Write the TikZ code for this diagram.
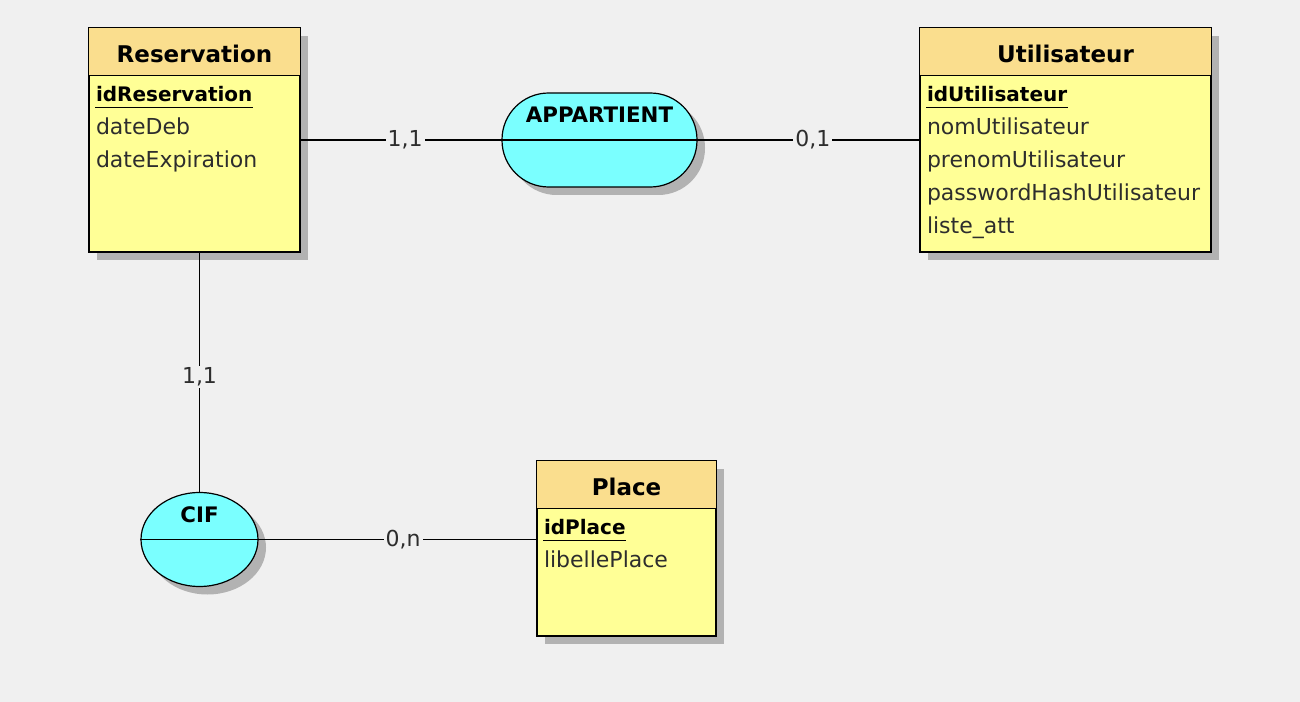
\documentclass[tikz,border=0pt]{standalone}
\usepackage{fontspec}
\setmainfont{DejaVu Sans}
\usetikzlibrary{shapes.geometric,shadows}

\definecolor{clrfond}{RGB}{240,240,240}
\definecolor{clrtete}{RGB}{250,222,142}
\definecolor{clrcorps}{RGB}{255,255,150}
\definecolor{clrassoc}{RGB}{122,255,255}
\definecolor{clrtexte}{RGB}{45,45,45}

\begin{document}
\begin{tikzpicture}[x=0.75pt,y=-0.75pt,line width=0.9pt,
	ombre/.style={drop shadow={shadow xshift=6pt,shadow yshift=-6pt,fill=black!30,opacity=1}},
	entite/.style={draw,fill=clrcorps,inner sep=0pt,ombre},
	assoc/.style={draw,fill=clrassoc,inner sep=0pt,ombre},
	titre/.style={inner sep=0pt,font=\fontsize{17.25}{20}\selectfont\bfseries},
	cle/.style={inner sep=0pt,font=\fontsize{15}{19}\selectfont\bfseries},
	attribut/.style={inner sep=0pt,text=clrtexte,font=\fontsize{16.5}{19}\selectfont},
	nomassoc/.style={inner sep=0pt,font=\fontsize{16}{19}\selectfont\bfseries},
	card/.style={fill=clrfond,inner sep=1.5pt,text=clrtexte,font=\fontsize{16.5}{19}\selectfont}]

\def\htitre{36pt}
\def\interligne{24.75pt}

% \entite{nom}{x}{y}{largeur}{hauteur}{titre}{cle}{attributs}
\newcommand*{\entite}[8]{
	\node [entite,minimum width=#4,minimum height=#5] (#1) at (#2,#3) {};
	\filldraw [fill=clrtete] (#1.north west) rectangle ([yshift=-\htitre]#1.north east);
	\node [titre,anchor=base] (#1-titre) at ([yshift=-26.25pt]#1.north) {#6};
	\node [cle,anchor=base west] (#1-cle) at ([xshift=5.25pt,yshift=-55.5pt]#1.north west) {#7};
	\draw [line width=1.3pt] ([yshift=-4.5pt]#1-cle.base west) -- ([yshift=-4.5pt]#1-cle.base east);
	\foreach \a [count=\i] in {#8}{
		\node [attribut,anchor=base west] (#1-\i) at ([xshift=5.25pt,yshift=-55.5pt-\i*\interligne]#1.north west) {\a};
	}
}

	\fill [clrfond] (0,0) rectangle (1300,702);

	\entite{resa}{194.5}{140}{158.25pt}{168pt}{Reservation}{idReservation}{dateDeb,dateExpiration}
	\entite{util}{1065.5}{140}{218.25pt}{168pt}{Utilisateur}{idUtilisateur}{nomUtilisateur,prenomUtilisateur,passwordHashUtilisateur,liste\_att}
	\entite{place}{626.5}{548.5}{134.25pt}{131.25pt}{Place}{idPlace}{libellePlace}

	\node [assoc,rectangle,rounded corners=35pt,minimum width=146.25pt,minimum height=70.5pt] (appart) at (599.5,140) {};
	\draw (appart.west) -- (appart.east);
	\node [nomassoc,anchor=base] (appart-nom) at ([yshift=-22.5pt]appart.north) {APPARTIENT};

	\node [assoc,ellipse,minimum width=87.75pt,minimum height=70.5pt] (cif) at (199.5,539.5) {};
	\draw (cif.west) -- (cif.east);
	\node [nomassoc,anchor=base] (cif-nom) at ([yshift=-23pt]cif.north) {CIF};

	\draw (resa) -- node [card,pos=0.52] (card1) {1,1} (appart);
	\draw (appart) -- node [card,pos=0.52] (card2) {0,1} (util);
	\draw (resa.south -| cif) -- node [card,pos=0.52] (card3) {1,1} (cif);
	\draw (cif) -- node [card,pos=0.52] (card4) {0,n} (cif -| place.west);

\end{tikzpicture}
\end{document}
